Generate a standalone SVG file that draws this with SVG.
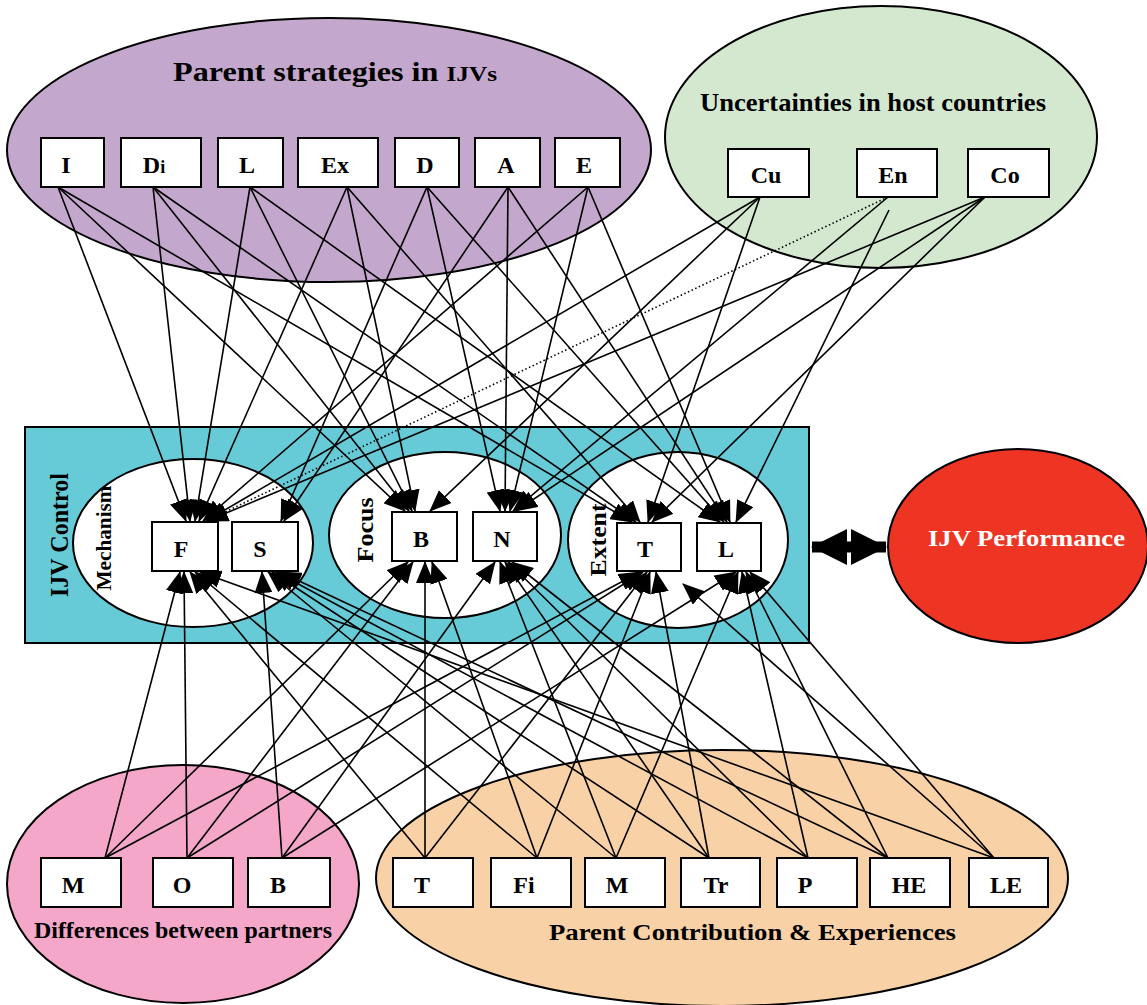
<svg xmlns="http://www.w3.org/2000/svg" width="1147" height="1005" viewBox="0 0 1147 1005">
  <defs>
    <marker id="ah" viewBox="0 0 22 18" refX="21" refY="9" markerWidth="22" markerHeight="18" markerUnits="userSpaceOnUse" orient="auto">
      <path d="M0,0 L22,9 L0,18 Z" fill="#000"/>
    </marker>
    <marker id="big" viewBox="0 0 36 36" refX="35" refY="18" markerWidth="36" markerHeight="36" markerUnits="userSpaceOnUse" orient="auto-start-reverse">
      <path d="M0,0 L36,18 L0,36 Z" fill="#000"/>
    </marker>
  </defs>
  <style>
    .grp { stroke: #000; stroke-width: 2; }
    .box { fill: #fff; stroke: #000; stroke-width: 2; }
    .lbl { font-family: "Liberation Serif", "Times New Roman", serif; font-weight: bold; font-size: 24px; text-anchor: middle; fill: #000; }
    .ttl { font-family: "Liberation Serif", "Times New Roman", serif; font-weight: bold; fill: #000; }
    .mid { text-anchor: middle; }
    .cn line { stroke: #000; stroke-width: 1.6; fill: none; marker-end: url(#ah); }
    .cn line.dot { stroke-dasharray: 1.5 2.5; }
  </style>

  <rect width="1147" height="1005" fill="#fff"/>

  <!-- group ellipses -->
  <g id="parent-strategies">
    <ellipse class="grp" cx="329" cy="150" rx="322" ry="132" fill="#C3A7CC"/>
    <text class="ttl" x="173" y="81" font-size="28" textLength="324" lengthAdjust="spacingAndGlyphs">Parent strategies in <tspan font-size="22">IJVs</tspan></text>
  </g>
  <g id="uncertainties">
    <ellipse class="grp" cx="881" cy="137" rx="216" ry="131" fill="#D3E8CF"/>
    <text class="ttl" x="700" y="111" font-size="25.5" textLength="346" lengthAdjust="spacingAndGlyphs">Uncertainties in host countries</text>
  </g>
  <g id="differences">
    <ellipse class="grp" cx="183" cy="884" rx="176" ry="119" fill="#F4A7C9"/>
    <text class="ttl" x="34" y="938" font-size="23" textLength="298" lengthAdjust="spacingAndGlyphs">Differences between partners</text>
  </g>
  <g id="contribution">
    <ellipse class="grp" cx="722" cy="878" rx="346" ry="128" fill="#F9D1A7"/>
    <text class="ttl" x="549" y="940" font-size="24" textLength="407" lengthAdjust="spacingAndGlyphs">Parent Contribution &amp; Experiences</text>
  </g>

  <!-- IJV control block -->
  <g id="ijv-control">
    <rect class="grp" x="25" y="427" width="784" height="216" fill="#67CBD7"/>
    <text class="ttl mid" font-size="25" textLength="124" lengthAdjust="spacingAndGlyphs" transform="translate(68,535) rotate(-90)">IJV Control</text>
    <ellipse class="grp" cx="193" cy="543" rx="120" ry="84" fill="#fff"/>
    <ellipse class="grp" cx="445" cy="535" rx="116" ry="83" fill="#fff"/>
    <ellipse class="grp" cx="678" cy="540" rx="110" ry="88" fill="#fff"/>
    <text class="ttl mid" font-size="22" textLength="105" lengthAdjust="spacingAndGlyphs" transform="translate(111,538) rotate(-90)">Mechanism</text>
    <text class="ttl mid" font-size="24" textLength="65" lengthAdjust="spacingAndGlyphs" transform="translate(373,530) rotate(-90)">Focus</text>
    <text class="ttl mid" font-size="24" textLength="73" lengthAdjust="spacingAndGlyphs" transform="translate(606,540) rotate(-90)">Extent</text>
  </g>

  <g id="ijv-performance">
    <ellipse class="grp" cx="1018" cy="546" rx="130" ry="97" fill="#EE3524"/>
    <text class="ttl" x="928" y="546" font-size="24" textLength="197" lengthAdjust="spacingAndGlyphs" style="fill:#fff">IJV Performance</text>
  </g>

  <!-- connectors -->
  <g id="connectors" class="cn">
    <!-- parent strategies -> control -->
    <line x1="58" y1="187" x2="186" y2="521"/>
    <line x1="58" y1="187" x2="405" y2="511"/>
    <line x1="58" y1="187" x2="632" y2="522"/>
    <line x1="153" y1="187" x2="190" y2="521"/>
    <line x1="153" y1="187" x2="409" y2="511"/>
    <line x1="153" y1="187" x2="636" y2="522"/>
    <line x1="250" y1="187" x2="195" y2="521"/>
    <line x1="250" y1="187" x2="412" y2="511"/>
    <line x1="250" y1="187" x2="720" y2="522"/>
    <line x1="347" y1="187" x2="199" y2="521"/>
    <line x1="347" y1="187" x2="415" y2="511"/>
    <line x1="347" y1="187" x2="640" y2="522"/>
    <line x1="427" y1="187" x2="281" y2="521"/>
    <line x1="427" y1="187" x2="500" y2="511"/>
    <line x1="427" y1="187" x2="724" y2="522"/>
    <line x1="508" y1="187" x2="284" y2="521"/>
    <line x1="508" y1="187" x2="505" y2="511"/>
    <line x1="508" y1="187" x2="727" y2="522"/>
    <line x1="588" y1="187" x2="203" y2="521"/>
    <line x1="588" y1="187" x2="510" y2="511"/>
    <line x1="588" y1="187" x2="730" y2="522"/>
    <!-- host uncertainties -> control -->
    <line x1="760" y1="197" x2="206" y2="521"/>
    <line x1="760" y1="197" x2="430" y2="511"/>
    <line x1="760" y1="197" x2="648" y2="522"/>
    <line class="dot" x1="888" y1="197" x2="206" y2="521"/>
    <line x1="888" y1="197" x2="513" y2="511"/>
    <line x1="889" y1="210" x2="736" y2="522"/>
    <line x1="985" y1="197" x2="207" y2="521"/>
    <line x1="985" y1="197" x2="516" y2="511"/>
    <line x1="985" y1="197" x2="652" y2="522"/>
    <!-- partner differences -> control -->
    <line x1="105" y1="858" x2="180" y2="572"/>
    <line x1="105" y1="858" x2="408" y2="562"/>
    <line x1="105" y1="858" x2="640" y2="572"/>
    <line x1="187" y1="858" x2="184" y2="572"/>
    <line x1="187" y1="858" x2="413" y2="562"/>
    <line x1="187" y1="858" x2="643" y2="572"/>
    <line x1="282" y1="858" x2="262" y2="572"/>
    <line x1="282" y1="858" x2="495" y2="562"/>
    <line x1="282" y1="858" x2="736" y2="572"/>
    <!-- parent contribution -> control -->
    <line x1="425" y1="858" x2="190" y2="572"/>
    <line x1="425" y1="858" x2="425" y2="562"/>
    <line x1="425" y1="858" x2="647" y2="572"/>
    <line x1="537" y1="858" x2="195" y2="572"/>
    <line x1="537" y1="858" x2="432" y2="562"/>
    <line x1="537" y1="858" x2="650" y2="572"/>
    <line x1="616" y1="858" x2="268" y2="572"/>
    <line x1="616" y1="858" x2="500" y2="562"/>
    <line x1="616" y1="858" x2="738" y2="572"/>
    <line x1="709" y1="858" x2="272" y2="572"/>
    <line x1="709" y1="858" x2="505" y2="562"/>
    <line x1="709" y1="858" x2="656" y2="572"/>
    <line x1="808" y1="858" x2="276" y2="572"/>
    <line x1="808" y1="858" x2="508" y2="562"/>
    <line x1="808" y1="858" x2="742" y2="572"/>
    <line x1="888" y1="858" x2="280" y2="572"/>
    <line x1="888" y1="858" x2="512" y2="562"/>
    <line x1="888" y1="858" x2="746" y2="572"/>
    <line x1="994" y1="858" x2="200" y2="572"/>
    <line x1="994" y1="858" x2="683" y2="584"/>
    <line x1="994" y1="858" x2="750" y2="572"/>
    <!-- control <-> performance -->
    <line x1="812" y1="547" x2="886" y2="547" style="stroke-width:11; marker-start:url(#big); marker-end:url(#big)"/>
  </g>

  <!-- factor boxes -->
  <g id="n-I"><rect class="box" x="41" y="138" width="63" height="49"/><text class="lbl" x="66" y="173">I</text></g>
  <g id="n-Di"><rect class="box" x="121" y="138" width="80" height="49"/><text class="lbl" x="154" y="173">D<tspan font-size="18">i</tspan></text></g>
  <g id="n-L"><rect class="box" x="218" y="138" width="65" height="49"/><text class="lbl" x="247" y="173">L</text></g>
  <g id="n-Ex"><rect class="box" x="298" y="138" width="80" height="49"/><text class="lbl" x="335" y="173">Ex</text></g>
  <g id="n-D"><rect class="box" x="395" y="138" width="64" height="49"/><text class="lbl" x="425" y="173">D</text></g>
  <g id="n-A"><rect class="box" x="475" y="138" width="65" height="49"/><text class="lbl" x="506" y="173">A</text></g>
  <g id="n-E"><rect class="box" x="555" y="138" width="65" height="49"/><text class="lbl" x="584" y="173">E</text></g>

  <g id="n-Cu"><rect class="box" x="728" y="149" width="81" height="48"/><text class="lbl" x="766" y="183">Cu</text></g>
  <g id="n-En"><rect class="box" x="857" y="149" width="80" height="48"/><text class="lbl" x="893" y="183">En</text></g>
  <g id="n-Co"><rect class="box" x="968" y="149" width="81" height="48"/><text class="lbl" x="1005" y="183">Co</text></g>

  <g id="n-F"><rect class="box" x="152" y="522" width="66" height="49"/><text class="lbl" x="181" y="557">F</text></g>
  <g id="n-S"><rect class="box" x="232" y="522" width="66" height="49"/><text class="lbl" x="260" y="557">S</text></g>
  <g id="n-B"><rect class="box" x="392" y="512" width="65" height="49"/><text class="lbl" x="421" y="547">B</text></g>
  <g id="n-N"><rect class="box" x="473" y="512" width="64" height="49"/><text class="lbl" x="502" y="547">N</text></g>
  <g id="n-T"><rect class="box" x="617" y="523" width="64" height="48"/><text class="lbl" x="645" y="557">T</text></g>
  <g id="n-Lx"><rect class="box" x="697" y="523" width="64" height="48"/><text class="lbl" x="726" y="557">L</text></g>

  <g id="n-Mp"><rect class="box" x="41" y="858" width="80" height="49"/><text class="lbl" x="73" y="893">M</text></g>
  <g id="n-O"><rect class="box" x="153" y="858" width="80" height="49"/><text class="lbl" x="182" y="893">O</text></g>
  <g id="n-Bp"><rect class="box" x="248" y="858" width="82" height="49"/><text class="lbl" x="278" y="893">B</text></g>

  <g id="n-Tc"><rect class="box" x="393" y="858" width="80" height="49"/><text class="lbl" x="422" y="893">T</text></g>
  <g id="n-Fi"><rect class="box" x="491" y="858" width="80" height="49"/><text class="lbl" x="524" y="893">Fi</text></g>
  <g id="n-Mc"><rect class="box" x="585" y="858" width="80" height="49"/><text class="lbl" x="617" y="893">M</text></g>
  <g id="n-Tr"><rect class="box" x="681" y="858" width="79" height="49"/><text class="lbl" x="716" y="893">Tr</text></g>
  <g id="n-P"><rect class="box" x="777" y="858" width="80" height="49"/><text class="lbl" x="805" y="893">P</text></g>
  <g id="n-HE"><rect class="box" x="870" y="858" width="80" height="49"/><text class="lbl" x="909" y="893">HE</text></g>
  <g id="n-LE"><rect class="box" x="969" y="858" width="79" height="49"/><text class="lbl" x="1006" y="893">LE</text></g>
</svg>
